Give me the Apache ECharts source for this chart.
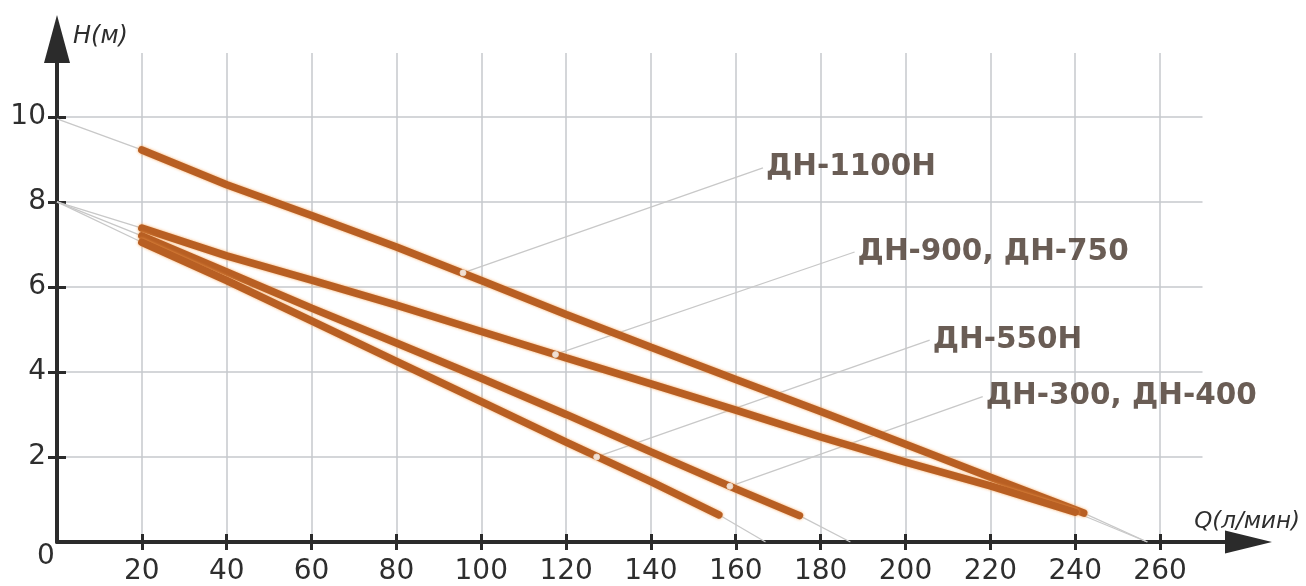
<!DOCTYPE html>
<html><head><meta charset="utf-8">
<script src="https://cdn.jsdelivr.net/npm/echarts@6/dist/echarts.min.js"></script>
<style>html,body{margin:0;padding:0;background:#fff}#c{width:1306px;height:586px}</style>
</head><body><div id="c"></div>
<script>
// tick values / labels
const xTickValues = [20,40,60,80,100,120,140,160,180,200,220,240,260];
const xLabelValues = [0,20,40,60,80,100,120,140,160,180,200,220,240,260];
const yTickValues = [2,4,6,8,10];

// pump curves [Q, H]
const curve1100 = [[20,9.22],[40,8.4],[60,7.68],[80,6.94],[100,6.15],[120,5.35],[140,4.58],[160,3.82],[180,3.07],[200,2.3],[220,1.52],[242,0.68]];
const curve900 = [[20,7.38],[40,6.73],[60,6.16],[80,5.57],[100,4.95],[120,4.33],[140,3.72],[160,3.1],[180,2.47],[200,1.88],[220,1.32],[240,0.7]];
const curve300 = [[20,7.2],[40,6.35],[60,5.5],[80,4.68],[100,3.85],[120,3.0],[140,2.12],[160,1.25],[175,0.62]];
const curve550 = [[20,7.05],[40,6.15],[60,5.2],[80,4.25],[100,3.3],[120,2.35],[140,1.42],[156,0.64]];

// thin grey extrapolation segments
const extensions = [
  [[0,9.95],[20,9.22]], [[242,0.68],[257,0]],
  [[0,8],[20,7.38]], [[240,0.7],[257,0]],
  [[0,8],[20,7.2]], [[175,0.62],[187,0]],
  [[0,8],[20,7.05]], [[156,0.64],[167,0]]
];

// leader lines: from point on curve to label anchor
const labelNames = ['ДН-1100Н','ДН-900, ДН-750','ДН-550Н','ДН-300, ДН-400'];
const leaderStarts = [[95.7,6.33],[117.5,4.41],[127.2,2.0],[158.6,1.31]];
const leaderEnds = [[166.4,8.8],[188,6.82],[205.7,4.75],[218.2,3.42]];

const chart = echarts.init(document.getElementById('c'));
const curveStyle = {color:'#b85f23', width:7.5, shadowBlur:3, shadowColor:'rgba(246,160,80,0.9)', cap:'round'};
const axisColor = '#2b2b2b';
const gridColor = '#c6c8cc';
const font = 'DejaVu Sans';

const series = [];
extensions.forEach(seg => series.push({type:'line', data:seg, symbol:'none', silent:true, z:2,
  lineStyle:{color:'#c8c8c8', width:1.3}}));
leaderStarts.forEach((s,i) => series.push({type:'line', data:[s, leaderEnds[i]], symbol:'none', silent:true, z:2,
  lineStyle:{color:'#c8c8c8', width:1.3}}));
[curve1100, curve900, curve300, curve550].forEach(c => series.push({type:'line', data:c, symbol:'none', z:3,
  lineStyle:curveStyle}));
series.push({type:'scatter', data:leaderStarts, symbol:'circle', symbolSize:6, z:5,
  itemStyle:{color:'#ffffff', borderColor:'#e8d8c8', borderWidth:1}});
series.push({type:'scatter', symbolSize:0, z:6,
  data: leaderEnds.map((p,i)=>({value:p, name:labelNames[i]})),
  label:{show:true, position:'right', distance:3, formatter:p=>p.name,
    fontFamily:font, fontWeight:'bold', fontSize:29.5, color:'#45352a'}});

chart.setOption({
  backgroundColor:'#ffffff',
  animation:false,
  grid:[
    {left:57, right:103.5, top:53, bottom:44},
    {left:57, right:57.5, top:39, bottom:44}
  ],
  xAxis:[
    {type:'value', gridIndex:0, min:0, max:270,
      axisLine:{show:false},
      axisTick:{show:true, customValues:xTickValues, length:8, lineStyle:{color:axisColor, width:3}},
      axisLabel:{customValues:xLabelValues, margin:1, fontFamily:font, fontSize:28, color:'#2e2e2e',
        formatter:v=> v===0 ? '{z|0}' : '{n|'+v+'}',
        rich:{z:{fontFamily:font, fontSize:28, color:'#2e2e2e', padding:[0,22,0,0]},
              n:{fontFamily:font, fontSize:28, color:'#2e2e2e', padding:[15,0,0,0]}}},
      splitLine:{show:true, lineStyle:{color:gridColor, width:1.5}}},
    {type:'value', gridIndex:1, min:0, max:280.9,
      axisLine:{show:true, onZero:false, symbol:['none','triangle'], symbolSize:[23,47], lineStyle:{color:axisColor, width:4}},
      axisTick:{show:true, inside:true, customValues:xTickValues, length:8, lineStyle:{color:axisColor, width:3}},
      axisLabel:{show:false}, splitLine:{show:false},
      name:'Q(л/мин)', nameLocation:'end', nameGap:51.5,
      nameTextStyle:{fontFamily:font, fontStyle:'italic', fontSize:23, color:'#2e2e2e', align:'right', verticalAlign:'bottom', padding:[0,0,8,0]}}
  ],
  yAxis:[
    {type:'value', gridIndex:0, min:0, max:11.5,
      axisLine:{show:false},
      axisTick:{show:true, customValues:yTickValues, length:9, lineStyle:{color:axisColor, width:3}},
      axisLabel:{customValues:yTickValues, margin:11, fontFamily:font, fontSize:28, color:'#2e2e2e'},
      splitLine:{show:true, lineStyle:{color:gridColor, width:1.5}}},
    {type:'value', gridIndex:1, min:0, max:11.83,
      axisLine:{show:true, onZero:false, symbol:['none','triangle'], symbolSize:[26,48], lineStyle:{color:axisColor, width:4}},
      axisTick:{show:true, inside:true, customValues:yTickValues, length:9, lineStyle:{color:axisColor, width:3}},
      axisLabel:{show:false}, splitLine:{show:false},
      name:'H(м)', nameLocation:'end', nameGap:2,
      nameTextStyle:{fontFamily:font, fontStyle:'italic', fontSize:24, color:'#2e2e2e', align:'left', verticalAlign:'middle', padding:[0,0,0,16]}}
  ],
  series: series
});
</script>
</body></html>
